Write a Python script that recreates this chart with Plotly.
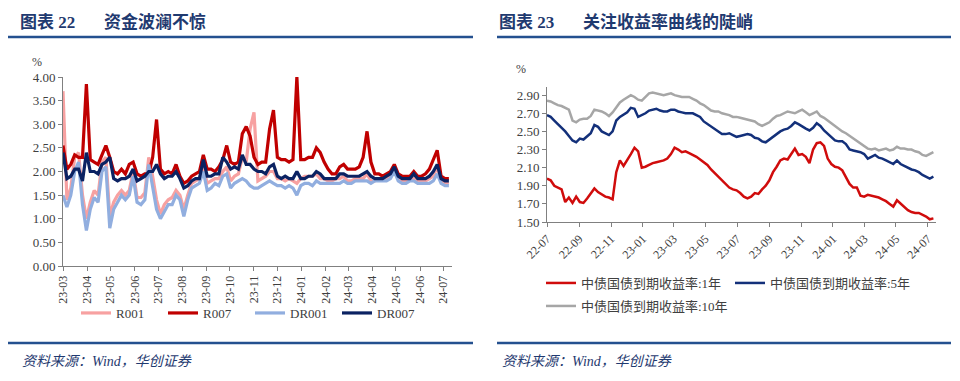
import plotly.graph_objects as go
import pandas as pd

# ---------------- data: left chart (money market rates, %) ----------------
left_dates = pd.date_range("2023-03-01", periods=100, freq="5D")
R001 = [3.7, 1.4, 1.65, 2.3, 2.4, 1.5, 1.0, 1.35, 1.6, 1.5,
        2.2, 2.3, 1.05, 1.35, 1.5, 1.6, 1.5, 1.6, 2.0, 1.45,
        1.45, 1.55, 2.3, 1.9, 1.4, 1.1, 1.3, 1.4, 1.45, 1.6,
        1.5, 1.2, 1.5, 1.75, 1.8, 1.85, 2.1, 1.75, 1.8, 1.85,
        1.85, 2.0, 2.1, 1.8, 1.9, 1.95, 2.3, 2.2, 2.9, 3.25,
        1.8, 1.85, 1.9, 2.0, 2.0, 1.85, 1.85, 1.8, 1.85, 1.8,
        1.75, 1.85, 1.9, 1.9, 1.9, 1.95, 1.85, 1.85, 1.8, 1.8,
        1.85, 1.85, 1.9, 1.8, 1.8, 1.85, 1.85, 1.85, 1.95, 1.8,
        1.8, 1.85, 1.85, 1.85, 1.9, 2.05, 1.85, 1.8, 1.8, 1.85,
        1.85, 1.8, 1.8, 1.8, 1.85, 1.9, 2.1, 1.8, 1.75, 1.75]
R007 = [2.55, 2.05, 2.15, 2.35, 2.3, 2.3, 3.85, 2.25, 2.2, 2.15,
        2.35, 2.55, 2.3, 2.0, 1.95, 2.05, 1.95, 2.15, 2.2, 1.95,
        1.9, 1.95, 1.95, 2.3, 3.1, 2.05, 1.95, 2.0, 1.95, 2.15,
        1.9, 1.75, 1.8, 1.9, 1.95, 2.0, 2.35, 2.05, 2.05, 2.0,
        2.1, 2.25, 2.55, 2.2, 2.15, 2.2, 2.8, 2.95, 2.75, 2.3,
        2.15, 2.2, 2.2, 2.9, 3.3, 2.3, 2.25, 2.25, 2.2, 2.25,
        4.0, 2.25, 2.25, 2.3, 2.3, 2.5, 2.4, 2.2, 2.05, 1.95,
        1.95, 2.1, 2.15, 2.05, 2.05, 2.05, 2.1, 2.3, 2.85, 2.2,
        1.95, 1.95, 1.9, 1.95, 2.0, 2.15, 1.95, 1.9, 1.9, 1.9,
        2.0, 1.9, 1.9, 1.95, 2.05, 2.25, 2.45, 1.9, 1.85, 1.85]
DR001 = [1.5, 1.25, 1.5, 2.0, 2.2, 1.3, 0.75, 1.2, 1.45, 1.35,
         2.0, 2.1, 0.8, 1.2, 1.35, 1.5, 1.4, 1.5, 1.9, 1.35,
         1.3, 1.4, 2.15, 1.7, 1.2, 1.0, 1.15, 1.3, 1.3, 1.5,
         1.4, 1.05, 1.4, 1.65, 1.7, 1.75, 2.0, 1.6, 1.65, 1.75,
         1.7, 1.9, 1.95, 1.65, 1.75, 1.8, 1.85, 1.8, 1.7, 1.65,
         1.65, 1.7, 1.75, 1.8, 1.75, 1.7, 1.7, 1.65, 1.7, 1.65,
         1.5, 1.7, 1.75, 1.75, 1.7, 1.8, 1.75, 1.75, 1.75, 1.75,
         1.75, 1.75, 1.8, 1.75, 1.75, 1.8, 1.8, 1.8, 1.8, 1.75,
         1.8, 1.8, 1.8, 1.8, 1.85, 2.0, 1.8, 1.75, 1.75, 1.8,
         1.8, 1.75, 1.75, 1.75, 1.75, 1.8, 1.95, 1.75, 1.7, 1.7]
DR007 = [2.4, 1.85, 1.9, 2.05, 2.05, 1.8, 2.4, 2.0, 2.0, 1.95,
         2.15, 2.2, 2.3, 1.85, 1.8, 1.85, 1.85, 1.9, 2.05, 1.8,
         1.85, 1.9, 2.0, 2.0, 2.15, 1.95, 1.85, 1.9, 1.9, 2.0,
         1.85, 1.65, 1.7, 1.8, 1.85, 1.85, 2.25, 1.9, 1.9, 1.95,
         1.95, 2.3, 2.2, 2.05, 2.1, 2.05, 2.35, 2.15, 2.15, 2.05,
         2.0, 2.0, 1.95, 2.1, 2.15, 1.9, 1.85, 1.9, 1.85, 1.85,
         2.0, 1.85, 1.85, 1.9, 1.9, 2.0, 1.95, 1.85, 1.85, 1.85,
         1.85, 1.95, 1.95, 1.9, 1.9, 1.9, 1.9, 1.95, 2.0, 1.9,
         1.85, 1.85, 1.85, 1.9, 1.95, 2.1, 1.9, 1.85, 1.85, 1.85,
         1.95, 1.85, 1.85, 1.85, 1.9, 2.0, 2.15, 1.85, 1.8, 1.8]
left_tickvals = pd.date_range("2023-03-01", "2024-07-01", freq="MS")
left_ticktext = ["23-03", "23-04", "23-05", "23-06", "23-07", "23-08", "23-09",
                 "23-10", "23-11", "23-12", "24-01", "24-02", "24-03", "24-04",
                 "24-05", "24-06", "24-07"]

# ---------------- data: right chart (CGB yields, %) ----------------
right_dates = pd.date_range("2022-07-01", periods=107, freq="7D")
Y1 = [1.98, 1.96, 1.90, 1.88, 1.86, 1.72, 1.77, 1.71, 1.78, 1.72,
      1.71, 1.76, 1.82, 1.87, 1.83, 1.80, 1.78, 1.77, 1.75, 2.05,
      2.18, 2.12, 2.18, 2.25, 2.32, 2.28, 2.10, 2.11, 2.13, 2.15,
      2.16, 2.17, 2.18, 2.20, 2.25, 2.32, 2.30, 2.27, 2.28, 2.26,
      2.24, 2.22, 2.19, 2.16, 2.13, 2.08, 2.04, 2.00, 1.97, 1.92,
      1.88, 1.86, 1.85, 1.82, 1.78, 1.76, 1.78, 1.82, 1.81, 1.86,
      1.90, 1.96, 2.05, 2.11, 2.18, 2.20, 2.19, 2.25, 2.31, 2.24,
      2.25, 2.22, 2.15, 2.30, 2.37, 2.38, 2.34, 2.20, 2.14, 2.11,
      2.10, 2.07, 2.00, 1.92, 1.88, 1.88, 1.79, 1.78, 1.80, 1.79,
      1.78, 1.77, 1.75, 1.73, 1.70, 1.67, 1.74, 1.70, 1.66, 1.63,
      1.61, 1.60, 1.60, 1.58, 1.56, 1.53, 1.54]
Y5 = [2.68, 2.66, 2.62, 2.58, 2.55, 2.50, 2.45, 2.40, 2.38, 2.42,
      2.41, 2.44, 2.48, 2.57, 2.55, 2.50, 2.48, 2.46, 2.50, 2.62,
      2.66, 2.69, 2.71, 2.76, 2.75, 2.66, 2.68, 2.70, 2.73, 2.74,
      2.75, 2.73, 2.72, 2.72, 2.74, 2.74, 2.72, 2.71, 2.70, 2.70,
      2.70, 2.68, 2.66, 2.61, 2.58, 2.55, 2.52, 2.50, 2.47, 2.47,
      2.48, 2.46, 2.44, 2.45, 2.46, 2.47, 2.46, 2.43, 2.42, 2.39,
      2.38, 2.41, 2.44, 2.48, 2.50, 2.52, 2.53, 2.56, 2.60, 2.58,
      2.55, 2.53, 2.51, 2.54, 2.59, 2.56, 2.51, 2.47, 2.43, 2.40,
      2.39, 2.39, 2.36, 2.30, 2.29, 2.28, 2.27, 2.25, 2.20, 2.22,
      2.24, 2.21, 2.20, 2.18, 2.16, 2.14, 2.18, 2.14, 2.12, 2.10,
      2.08, 2.07, 2.05, 2.02, 2.00, 1.98, 2.00]
Y10 = [2.84, 2.83, 2.81, 2.79, 2.78, 2.76, 2.74, 2.62, 2.60, 2.63,
       2.64, 2.64, 2.67, 2.74, 2.73, 2.72, 2.70, 2.67, 2.71, 2.76,
       2.82, 2.85, 2.88, 2.90, 2.88, 2.85, 2.84, 2.88, 2.92, 2.93,
       2.92, 2.91, 2.90, 2.91, 2.92, 2.90, 2.89, 2.88, 2.88, 2.88,
       2.86, 2.84, 2.81, 2.79, 2.76, 2.73, 2.72, 2.72, 2.70, 2.69,
       2.68, 2.66, 2.66, 2.65, 2.64, 2.63, 2.62, 2.61, 2.58, 2.56,
       2.58, 2.60, 2.64, 2.67, 2.68, 2.70, 2.72, 2.71, 2.70, 2.72,
       2.74, 2.71, 2.68, 2.70, 2.72, 2.67, 2.65, 2.62, 2.59, 2.56,
       2.52, 2.50, 2.48, 2.45, 2.42, 2.40, 2.37, 2.33, 2.31, 2.30,
       2.31, 2.29, 2.30, 2.31, 2.29, 2.30, 2.33, 2.31, 2.31, 2.30,
       2.30, 2.28, 2.27, 2.24, 2.23, 2.25, 2.27]
right_tickvals = pd.date_range("2022-07-01", "2024-07-01", freq="2MS")
right_ticktext = ["22-07", "22-09", "22-11", "23-01", "23-03", "23-05", "23-07",
                  "23-09", "23-11", "24-01", "24-03", "24-05", "24-07"]
right_ytick = [1.5, 1.7, 1.9, 2.1, 2.3, 2.5, 2.7, 2.9]

# ---------------- layout helpers ----------------
# the page body has an 8px margin, so the figure is 952x373 and placed at (8, 8)
OFF = 8
W, H = 960 - OFF, 381 - OFF
def px(x):
    return (x - OFF) / W
def py(y):
    return 1 - (y - OFF) / H

SERIF = "Liberation Serif, Noto Sans CJK SC"
TXT = "#404040"
AX = "#808080"
BLUE = "#1F3A70"

fig = go.Figure()
left_series = [("R001", R001, "#F7A1A1"),
               ("R007", R007, "#C00000"),
               ("DR001", DR001, "#91AEDF"),
               ("DR007", DR007, "#0B2262")]
for name, vals, col in left_series:
    fig.add_trace(go.Scatter(x=left_dates, y=vals, name=name, mode="lines",
                             line=dict(color=col, width=3.2), xaxis="x", yaxis="y",
                             legend="legend"))

right_series = [("中债国债到期收益率:1年", Y1, "#D00C0C", "legend2"),
                ("中债国债到期收益率:5年", Y5, "#13307A", "legend2"),
                ("中债国债到期收益率:10年", Y10, "#A6A6A6", "legend3")]
for name, vals, col, lg in right_series:
    fig.add_trace(go.Scatter(x=right_dates, y=vals, name=name, mode="lines",
                             line=dict(color=col, width=2.5), xaxis="x2", yaxis="y2",
                             legend=lg))

axis_common = dict(showgrid=False, zeroline=False, showline=True, linecolor=AX,
                   linewidth=1, ticks="outside", tickcolor=AX, ticklen=4,
                   automargin=False,
                   tickfont=dict(family=SERIF, size=13, color=TXT))
legend_common = dict(orientation="h", xanchor="left", yanchor="middle",
                     font=dict(family=SERIF, size=13, color=TXT),
                     bgcolor="rgba(0,0,0,0)", itemwidth=30)

fig.update_layout(
    width=W, height=H, margin=dict(l=0, r=0, t=0, b=0, autoexpand=False),
    paper_bgcolor="white", plot_bgcolor="white", template="none",
    font=dict(family=SERIF, color=TXT),
    xaxis=dict(axis_common, domain=[px(63), px(452)], type="date",
               range=["2023-03-01", "2024-07-12"], tickmode="array",
               tickvals=left_tickvals, ticktext=left_ticktext, tickangle=-90,
               tickfont=dict(family=SERIF, size=12, color=TXT), anchor="y"),
    yaxis=dict(axis_common, domain=[py(266), py(77)], range=[0, 4.0],
               dtick=0.5, tick0=0, tickformat=".2f", anchor="x"),
    xaxis2=dict(axis_common, domain=[px(547), px(936)], type="date",
                range=["2022-07-01", "2024-07-17"], tickmode="array",
                tickvals=right_tickvals, ticktext=right_ticktext, tickangle=-45,
                tickfont=dict(family=SERIF, size=12, color=TXT), anchor="y2"),
    yaxis2=dict(axis_common, domain=[py(222), py(87)], range=[1.5, 2.99],
                tickmode="array", tickvals=right_ytick, tickformat=".2f",
                anchor="x2"),
    showlegend=True,
    legend=dict(legend_common, x=px(76), y=py(313), entrywidth=42),
    legend2=dict(legend_common, x=px(541), y=py(283), entrywidth=144),
    legend3=dict(legend_common, x=px(541), y=py(306), entrywidth=150),
)

annotations = [
    dict(text="<b>图表 22</b>", x=px(18), y=py(22)),
    dict(text="<b>资金波澜不惊</b>", x=px(102), y=py(22)),
    dict(text="<b>图表 23</b>", x=px(497), y=py(22)),
    dict(text="<b>关注收益率曲线的陡峭</b>", x=px(581), y=py(22)),
]
for a in annotations:
    fig.add_annotation(xref="paper", yref="paper", xanchor="left", yanchor="middle",
                       showarrow=False, font=dict(family=SERIF, size=17, color=BLUE), **a)
for xx in [20, 500]:
    fig.add_annotation(xref="paper", yref="paper", x=px(xx), y=py(361),
                       xanchor="left", yanchor="middle", showarrow=False,
                       text="<i>资料来源：Wind，华创证券</i>",
                       font=dict(family=SERIF, size=14, color=BLUE))
for xx, yy in [(37, 62), (521, 69)]:
    fig.add_annotation(xref="paper", yref="paper", x=px(xx), y=py(yy), text="%",
                       xanchor="center", yanchor="middle", showarrow=False,
                       font=dict(family=SERIF, size=12, color=TXT))

for x0, x1 in [(8, 473), (497, 951)]:
    for yy in [37, 343]:
        fig.add_shape(type="line", xref="paper", yref="paper",
                      x0=px(x0), x1=px(x1), y0=py(yy), y1=py(yy),
                      line=dict(color="#24508F", width=2.5))

fig.write_html("out.html")
